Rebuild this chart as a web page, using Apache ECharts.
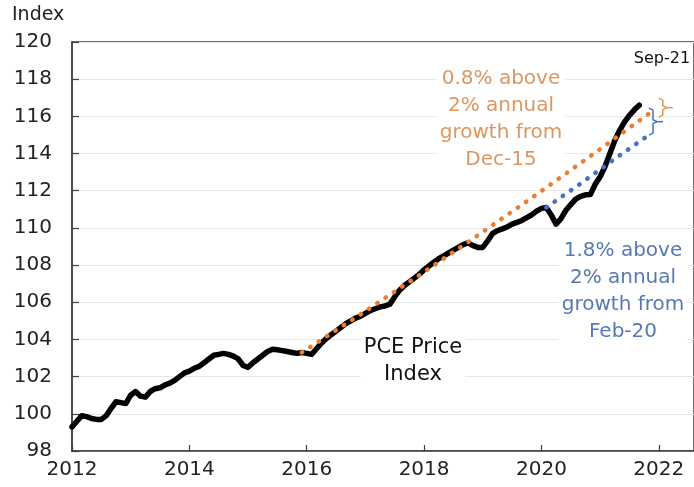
<!DOCTYPE html>
<html>
<head>
<meta charset="utf-8">
<script src="https://cdn.jsdelivr.net/npm/echarts@6/dist/echarts.min.js"></script>
<style>
html,body{margin:0;padding:0;background:#fff;}
#chart{width:694px;height:487px;}
</style>
</head>
<body>
<div id="chart"></div>
<script>
// ---- data ----
const pceStart = '2012-01';
const pceValues = [
  99.3, 99.6, 99.9, 99.85, 99.75, 99.7, 99.7, 99.9, 100.3, 100.65, 100.6, 100.55,
  101.0, 101.2, 100.95, 100.9, 101.2, 101.35, 101.4, 101.55, 101.65, 101.8, 102.0, 102.2,
  102.3, 102.45, 102.55, 102.75, 102.95, 103.15, 103.2, 103.25, 103.2, 103.1, 102.95, 102.6,
  102.5, 102.75, 102.95, 103.15, 103.35, 103.47, 103.45, 103.4, 103.35, 103.3, 103.25, 103.3,
  103.25, 103.2, 103.5, 103.8, 104.05, 104.25, 104.45, 104.65, 104.85, 105.0, 105.15, 105.25,
  105.4, 105.55, 105.65, 105.75, 105.8, 105.9, 106.3, 106.65, 106.9, 107.1, 107.3, 107.5,
  107.75, 107.95, 108.15, 108.35, 108.5, 108.65, 108.8, 108.95, 109.1, 109.2, 109.05, 108.95,
  108.95, 109.3, 109.7, 109.85, 109.95, 110.05, 110.2, 110.3, 110.4, 110.55, 110.7, 110.9,
  111.05, 111.1, 110.7, 110.2, 110.5, 110.95, 111.25, 111.55, 111.7, 111.78, 111.8, 112.35,
  112.75, 113.3, 114.0, 114.7, 115.25, 115.7, 116.05, 116.35, 116.6
];
const trendDec15Dates = ['2015-12', '2016-12', '2017-12', '2018-12', '2019-12', '2020-12', '2021-11'];
const trendDec15Values = [103.3, 105.35, 107.45, 109.6, 111.8, 114.05, 116.15];
const trendFeb20Dates = ['2020-02', '2020-08', '2020-12', '2021-05', '2021-11'];
const trendFeb20Values = [111.1, 112.2, 112.95, 113.9, 115.0];
// brackets: [date, top value, bottom value]
const bracketOrange = ['2022-01', 116.98, 115.96];
const bracketBlue = ['2021-11', 116.44, 114.99];
const xTicks = [2012, 2014, 2016, 2018, 2020, 2022];
const yTicks = [98, 100, 102, 104, 106, 108, 110, 112, 114, 116, 118, 120];

// ---- helpers ----
function toYear(s) { const [y, m] = s.split('-').map(Number); return y + (m - 1) / 12; }
function monthsFrom(start, n) {
  let [y, m] = start.split('-').map(Number);
  const out = [];
  for (let i = 0; i < n; i++) {
    out.push(y + '-' + String(m).padStart(2, '0'));
    m++; if (m > 12) { m = 1; y++; }
  }
  return out;
}
const pceMonths = monthsFrom(pceStart, pceValues.length);
const pceData = pceMonths.map((d, i) => [toYear(d), pceValues[i]]);
const orangeData = trendDec15Dates.map((d, i) => [toYear(d), trendDec15Values[i]]);
const blueData = trendFeb20Dates.map((d, i) => [toYear(d), trendFeb20Values[i]]);

const ORANGE = '#ED7D31', BLUE = '#4472C4';
const ORANGE_TXT = '#DD9660', BLUE_TXT = '#5878B4';
const FONT = 'DejaVu Sans';

function bracketItem(params, api) {
  const x = api.value(0), top = api.value(1), bot = api.value(2);
  const p1 = api.coord([x, top]), p2 = api.coord([x, bot]);
  const x0 = p1[0], y1 = p1[1], y2 = p2[1], ym = (y1 + y2) / 2, w = 4;
  const color = api.value(3) === 0 ? ORANGE_TXT : BLUE;
  return {
    type: 'group',
    children: [
      { type: 'polyline', shape: { points: [[x0, y1], [x0 + w, y1 + 2], [x0 + w, ym - 2], [x0 + 2 * w, ym], [x0 + w, ym + 2], [x0 + w, y2 - 2], [x0, y2]] },
        style: { stroke: color, lineWidth: 1.5, fill: null } },
      { type: 'line', shape: { x1: x0 + 2 * w, y1: ym, x2: x0 + 2 * w + 6, y2: ym }, style: { stroke: color, lineWidth: 1.5 } }
    ]
  };
}

const chart = echarts.init(document.getElementById('chart'), null, { renderer: 'canvas' });
chart.setOption({
  animation: false,
  backgroundColor: '#fff',
  grid: { left: 72, right: -1, top: 42, bottom: 36, show: true, borderColor: '#404040', borderWidth: 1.5 },
  xAxis: {
    type: 'value', min: xTicks[0], max: 2022.6, interval: 2,
    axisLine: { show: true, lineStyle: { color: '#404040', width: 1.5 } },
    axisTick: { show: true, inside: true, length: 6, lineStyle: { color: '#404040', width: 1.2 } },
    splitLine: { show: false },
    axisLabel: {
      showMaxLabel: false, margin: 9, color: '#222', fontFamily: FONT, fontSize: 20,
      formatter: v => (xTicks.indexOf(Math.round(v)) >= 0 && Math.abs(v - Math.round(v)) < 1e-6) ? String(Math.round(v)) : ''
    }
  },
  yAxis: {
    type: 'value', min: yTicks[0], max: yTicks[yTicks.length - 1], interval: 2,
    axisLine: { show: true, lineStyle: { color: '#404040', width: 1.5 } },
    axisTick: { show: true, inside: true, length: 7, lineStyle: { color: '#404040', width: 1.2 } },
    splitLine: { show: true, lineStyle: { color: '#e6e6e6', width: 1 } },
    axisLabel: { margin: 20, color: '#222', fontFamily: FONT, fontSize: 20 }
  },
  series: [
    { name: 'PCE Price Index', type: 'line', data: pceData, showSymbol: false, symbol: 'none',
      lineStyle: { color: '#000', width: 5.5, join: 'round', cap: 'round' }, z: 3 },
    { name: '2% from Dec-15', type: 'line', data: orangeData, showSymbol: false, symbol: 'none',
      lineStyle: { color: ORANGE, width: 4.5, type: [0.5, 9.5], cap: 'round' }, z: 4 },
    { name: '2% from Feb-20', type: 'line', data: blueData, showSymbol: false, symbol: 'none',
      lineStyle: { color: BLUE, width: 4.5, type: [0.5, 9.5], cap: 'round' }, z: 4 },
    { type: 'custom', renderItem: bracketItem, z: 5,
      data: [[toYear(bracketOrange[0]), bracketOrange[1], bracketOrange[2], 0],
             [toYear(bracketBlue[0]), bracketBlue[1], bracketBlue[2], 1]] }
  ],
  graphic: [
    { type: 'text', left: 12, top: 6, style: { text: 'Index', font: '19px "DejaVu Sans"', fill: '#222' } },
    { type: 'text', x: 662, y: 59, z: 10, style: { text: 'Sep-21', font: '16px "DejaVu Sans"', fill: '#111', align: 'center', verticalAlign: 'middle' } },
    { type: 'text', x: 501, y: 119, z: 10, style: { text: '0.8% above\n2% annual\ngrowth from\nDec-15', font: '20px "DejaVu Sans"', lineHeight: 27, fill: ORANGE_TXT, align: 'center', verticalAlign: 'middle', backgroundColor: '#fff', padding: [0, 3] } },
    { type: 'text', x: 623, y: 291, z: 10, style: { text: '1.8% above\n2% annual\ngrowth from\nFeb-20', font: '20px "DejaVu Sans"', lineHeight: 27, fill: BLUE_TXT, align: 'center', verticalAlign: 'middle', backgroundColor: '#fff', padding: [0, 3] } },
    { type: 'text', x: 413, y: 361, z: 10, style: { text: 'PCE Price\nIndex', font: '21px "DejaVu Sans"', lineHeight: 27, fill: '#111', align: 'center', verticalAlign: 'middle', backgroundColor: '#fff', padding: [0, 3] } }
  ]
});
</script>
</body>
</html>
